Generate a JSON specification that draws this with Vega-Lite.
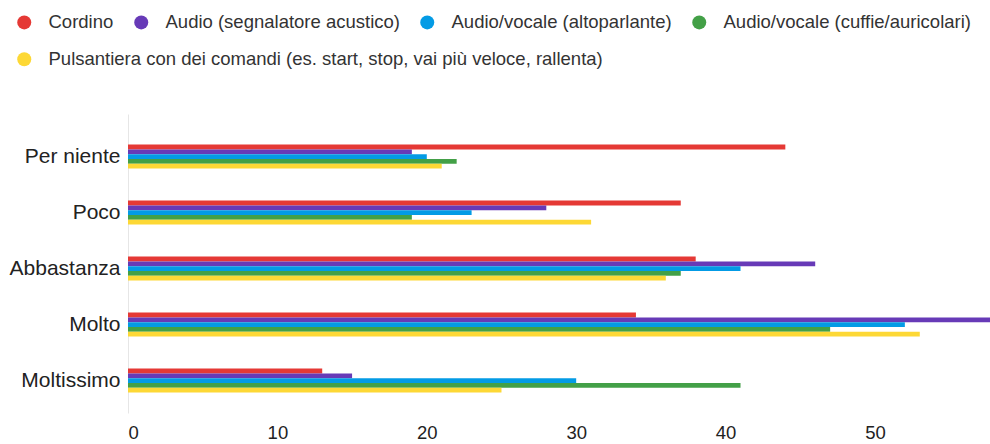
{
  "$schema": "https://vega.github.io/schema/vega-lite/v6.json",
  "width": 862,
  "height": 299,
  "autosize": "none",
  "padding": {"left": 128, "top": 114, "right": 0, "bottom": 31},
  "background": "white",
  "config": {
    "view": {"stroke": null},
    "font": "Liberation Sans",
    "legend": {
      "title": null,
      "orient": "none",
      "direction": "horizontal",
      "symbolType": "circle",
      "symbolSize": 196,
      "symbolStrokeWidth": 0,
      "labelFontSize": 18.5,
      "labelColor": "#333333",
      "labelOffset": 15,
      "labelLimit": 0,
      "columnPadding": 18
    }
  },
  "data": {
    "values": [
      {"risposta": "Per niente", "dispositivo": "Cordino", "valore": 44},
      {"risposta": "Per niente", "dispositivo": "Audio (segnalatore acustico)", "valore": 19},
      {"risposta": "Per niente", "dispositivo": "Audio/vocale (altoparlante)", "valore": 20},
      {"risposta": "Per niente", "dispositivo": "Audio/vocale (cuffie/auricolari)", "valore": 22},
      {"risposta": "Per niente", "dispositivo": "Pulsantiera con dei comandi (es. start, stop, vai più veloce, rallenta)", "valore": 21},
      {"risposta": "Poco", "dispositivo": "Cordino", "valore": 37},
      {"risposta": "Poco", "dispositivo": "Audio (segnalatore acustico)", "valore": 28},
      {"risposta": "Poco", "dispositivo": "Audio/vocale (altoparlante)", "valore": 23},
      {"risposta": "Poco", "dispositivo": "Audio/vocale (cuffie/auricolari)", "valore": 19},
      {"risposta": "Poco", "dispositivo": "Pulsantiera con dei comandi (es. start, stop, vai più veloce, rallenta)", "valore": 31},
      {"risposta": "Abbastanza", "dispositivo": "Cordino", "valore": 38},
      {"risposta": "Abbastanza", "dispositivo": "Audio (segnalatore acustico)", "valore": 46},
      {"risposta": "Abbastanza", "dispositivo": "Audio/vocale (altoparlante)", "valore": 41},
      {"risposta": "Abbastanza", "dispositivo": "Audio/vocale (cuffie/auricolari)", "valore": 37},
      {"risposta": "Abbastanza", "dispositivo": "Pulsantiera con dei comandi (es. start, stop, vai più veloce, rallenta)", "valore": 36},
      {"risposta": "Molto", "dispositivo": "Cordino", "valore": 34},
      {"risposta": "Molto", "dispositivo": "Audio (segnalatore acustico)", "valore": 58},
      {"risposta": "Molto", "dispositivo": "Audio/vocale (altoparlante)", "valore": 52},
      {"risposta": "Molto", "dispositivo": "Audio/vocale (cuffie/auricolari)", "valore": 47},
      {"risposta": "Molto", "dispositivo": "Pulsantiera con dei comandi (es. start, stop, vai più veloce, rallenta)", "valore": 53},
      {"risposta": "Moltissimo", "dispositivo": "Cordino", "valore": 13},
      {"risposta": "Moltissimo", "dispositivo": "Audio (segnalatore acustico)", "valore": 15},
      {"risposta": "Moltissimo", "dispositivo": "Audio/vocale (altoparlante)", "valore": 30},
      {"risposta": "Moltissimo", "dispositivo": "Audio/vocale (cuffie/auricolari)", "valore": 41},
      {"risposta": "Moltissimo", "dispositivo": "Pulsantiera con dei comandi (es. start, stop, vai più veloce, rallenta)", "valore": 25}
    ]
  },
  "encoding": {
    "y": {
      "field": "risposta",
      "type": "nominal",
      "sort": ["Per niente", "Poco", "Abbastanza", "Molto", "Moltissimo"],
      "scale": {"paddingInner": 0.5714, "paddingOuter": 0.455, "align": 0.6},
      "axis": {
        "title": null,
        "ticks": false,
        "domain": true,
        "domainColor": "#e6e6e6",
        "domainWidth": 1,
        "labelFontSize": 21,
        "labelColor": "#222222",
        "labelPadding": 8,
        "labelLimit": 0
      }
    },
    "yOffset": {
      "field": "dispositivo",
      "type": "nominal",
      "scale": {
        "domain": [
          "Cordino",
          "Audio (segnalatore acustico)",
          "Audio/vocale (altoparlante)",
          "Audio/vocale (cuffie/auricolari)",
          "Pulsantiera con dei comandi (es. start, stop, vai più veloce, rallenta)"
        ],
        "paddingInner": 0,
        "paddingOuter": 0
      }
    },
    "x": {
      "field": "valore",
      "type": "quantitative",
      "scale": {"domain": [0, 57.7], "nice": false, "clamp": true},
      "axis": {
        "title": null,
        "values": [0, 10, 20, 30, 40, 50],
        "grid": false,
        "domain": false,
        "ticks": false,
        "labelFontSize": 18.5,
        "labelColor": "#222222",
        "labelPadding": 10
      }
    }
  },
  "layer": [
    {
      "transform": [{"filter": "datum.dispositivo !== 'Pulsantiera con dei comandi (es. start, stop, vai più veloce, rallenta)'"}],
      "mark": {"type": "bar"},
      "encoding": {
        "color": {
          "field": "dispositivo",
          "type": "nominal",
          "scale": {
            "domain": [
              "Cordino",
              "Audio (segnalatore acustico)",
              "Audio/vocale (altoparlante)",
              "Audio/vocale (cuffie/auricolari)"
            ],
            "range": ["#e53935", "#673ab7", "#039be5", "#43a047"]
          },
          "legend": {"legendX": -113, "legendY": -101}
        }
      }
    },
    {
      "transform": [{"filter": "datum.dispositivo === 'Pulsantiera con dei comandi (es. start, stop, vai più veloce, rallenta)'"}],
      "mark": {"type": "bar"},
      "encoding": {
        "color": {
          "field": "dispositivo",
          "type": "nominal",
          "scale": {
            "domain": ["Pulsantiera con dei comandi (es. start, stop, vai più veloce, rallenta)"],
            "range": ["#fdd835"]
          },
          "legend": {"legendX": -113, "legendY": -64}
        }
      }
    }
  ],
  "resolve": {"scale": {"color": "independent"}}
}
